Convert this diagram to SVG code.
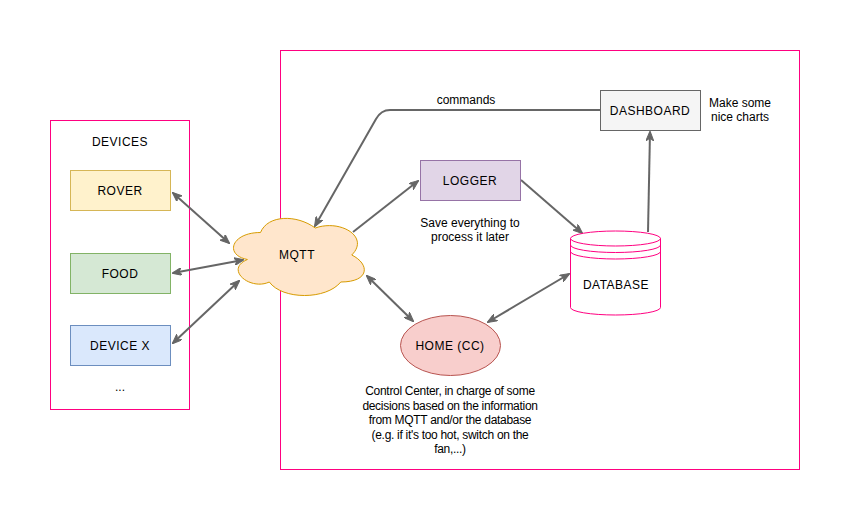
<svg xmlns="http://www.w3.org/2000/svg" width="851" height="521" viewBox="0 0 851 521">
<style>
text{font-family:"Liberation Sans",Arial,sans-serif;font-size:12px;fill:#000;text-anchor:middle}
.lbl{letter-spacing:0.5px}
.note{letter-spacing:-0.3px}
.container{fill:none;stroke:#ff0080;stroke-width:1}
.edge{fill:none;stroke:#666666;stroke-width:2}
</style>
<defs>
<marker id="arr" viewBox="0 0 10 8" refX="9" refY="4" markerWidth="10" markerHeight="8" markerUnits="userSpaceOnUse" orient="auto-start-reverse">
<path d="M10,4 L0,0 L3,4 L0,8 Z" fill="#666666" stroke="#666666" stroke-width="1"/>
</marker>
</defs>
<rect width="851" height="521" fill="#ffffff"/>
<g id="devices-container">
<rect class="container" x="50.5" y="120.5" width="139" height="289"/>
<text class="lbl" x="120" y="146">DEVICES</text>
<text x="120" y="391">...</text>
</g>
<g id="system-container">
<rect class="container" x="280.5" y="50.5" width="519" height="419"/>
</g>
<g id="connectors">
<line class="edge" x1="173" y1="193" x2="229" y2="243" marker-start="url(#arr)" marker-end="url(#arr)"/>
<line class="edge" x1="173" y1="273" x2="243" y2="260" marker-start="url(#arr)" marker-end="url(#arr)"/>
<line class="edge" x1="173" y1="343" x2="239" y2="281" marker-start="url(#arr)" marker-end="url(#arr)"/>
<path class="edge" d="M600,110 L390,110 Q381,110 376,119 L315,226" marker-end="url(#arr)"/>
<line class="edge" x1="353" y1="232" x2="418" y2="181" marker-end="url(#arr)"/>
<line class="edge" x1="521" y1="180" x2="582" y2="233" marker-end="url(#arr)"/>
<line class="edge" x1="648" y1="232" x2="650" y2="132" marker-end="url(#arr)"/>
<line class="edge" x1="367" y1="276" x2="413" y2="321" marker-start="url(#arr)" marker-end="url(#arr)"/>
<line class="edge" x1="488" y1="322" x2="569" y2="274" marker-start="url(#arr)" marker-end="url(#arr)"/>
<text x="466" y="104">commands</text>
</g>
<g id="rover">
<rect x="70.5" y="170.5" width="100" height="40" fill="#fff2cc" stroke="#d6b656"/>
<text class="lbl" x="120" y="194.5">ROVER</text>
</g>
<g id="food">
<rect x="70.5" y="253.5" width="100" height="40" fill="#d5e8d4" stroke="#82b366"/>
<text class="lbl" x="120" y="277.5">FOOD</text>
</g>
<g id="device-x">
<rect x="70.5" y="325.5" width="100" height="40" fill="#dae8fc" stroke="#6c8ebf"/>
<text class="lbl" x="120" y="349.5">DEVICE X</text>
</g>
<g id="mqtt">
<path d="M260.5,232.5 C231.3,232.5 224,255 247.4,259.5 C224,269.4 250.3,291 269.3,282 C282.4,300 326.2,300 340.8,282 C370,282 370,264 351.75,255 C370,237 340.8,219 315.25,228 C297,214.5 267.8,214.5 260.5,232.5 Z" fill="#ffe6cc" stroke="#d79b00"/>
<text class="lbl" x="297" y="259">MQTT</text>
</g>
<g id="logger">
<rect x="420.5" y="160.5" width="100" height="40" fill="#e1d5e7" stroke="#9673a6"/>
<text class="lbl" x="470" y="184.5">LOGGER</text>
<text x="470" y="227">Save everything to</text>
<text x="470" y="241">process it later</text>
</g>
<g id="dashboard">
<rect x="600.5" y="90.5" width="100" height="40" fill="#f5f5f5" stroke="#666666"/>
<text class="lbl" x="650" y="114.5">DASHBOARD</text>
<text x="740" y="107">Make some</text>
<text x="740" y="121">nice charts</text>
</g>
<g id="database">
<path d="M570.5,238.5 A45,7.5 0 0 1 660.5,238.5 L660.5,307.5 A45,7.5 0 0 1 570.5,307.5 Z" fill="#ffffff" stroke="#ff0080"/>
<path d="M570.5,238.5 A45,7.5 0 0 0 660.5,238.5 M570.5,245 A45,7.5 0 0 0 660.5,245 M570.5,251.5 A45,7.5 0 0 0 660.5,251.5" fill="none" stroke="#ff0080"/>
<text class="lbl" x="616" y="288.5">DATABASE</text>
</g>
<g id="home">
<ellipse cx="450.5" cy="345.5" rx="50" ry="30" fill="#f8cecc" stroke="#b85450"/>
<text class="lbl" x="450" y="349.5">HOME (CC)</text>
<text class="note" x="450" y="395">Control Center, in charge of some</text>
<text class="note" x="450" y="409.5">decisions based on the information</text>
<text class="note" x="450" y="424">from MQTT and/or the database</text>
<text class="note" x="450" y="438.5">(e.g. if it's too hot, switch on the</text>
<text class="note" x="450" y="453">fan,...)</text>
</g>
</svg>
